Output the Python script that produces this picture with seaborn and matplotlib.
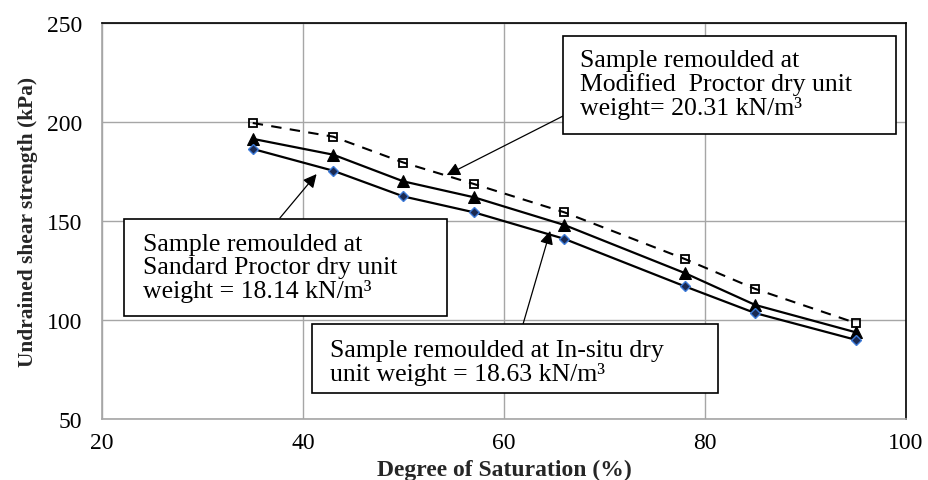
import matplotlib
matplotlib.use("Agg")
import matplotlib.pyplot as plt
from matplotlib.patches import Rectangle
import pandas as pd
import seaborn as sns

# Degree of saturation (%) at which each sample was tested
saturation = [35, 43, 50, 57, 66, 78, 85, 95]

# Undrained shear strength (kPa) for each remoulding condition
modified_proctor = [199.5, 192.6, 179.5, 168.7, 154.4, 130.8, 115.7, 98.5]
in_situ = [191.5, 183.5, 170.0, 162.0, 148.0, 123.7, 107.6, 93.8]
standard_proctor = [186.4, 175.4, 162.4, 154.4, 141.0, 117.0, 103.5, 90.0]

x_ticks = [20, 40, 60, 80, 100]
y_ticks = [50, 100, 150, 200, 250]

df = pd.DataFrame({
    "S": saturation * 3,
    "cu": modified_proctor + in_situ + standard_proctor,
    "sample": (["Modified"] * len(saturation) + ["In-situ"] * len(saturation)
               + ["Standard"] * len(saturation)),
})

sns.set_theme(style="whitegrid")
plt.rcParams["font.family"] = ["Liberation Serif", "DejaVu Serif"]

fig = plt.figure(figsize=(9.29, 4.81), dpi=100)
ax = fig.add_axes([0.1098, 0.1268, 0.8654, 0.8233])
ax.set_facecolor("white")

styles = {
    "Modified": dict(marker="s", markersize=6.2, markerfacecolor="none",
                     markeredgecolor="black", markeredgewidth=1.3,
                     linestyle=(0, (5, 4)), color="black", linewidth=1.5),
    "In-situ": dict(marker="^", markersize=8, markerfacecolor="black",
                    markeredgecolor="black", linestyle="-", color="black",
                    linewidth=1.6),
    "Standard": dict(marker="D", markersize=4.6, markerfacecolor="#1b2a52",
                     markeredgecolor="#3d7bd9", markeredgewidth=1.0,
                     linestyle="-", color="black", linewidth=1.6),
}

for name, kw in styles.items():
    sub = df[df["sample"] == name]
    sns.lineplot(data=sub, x="S", y="cu", ax=ax, sort=False, estimator=None,
                 legend=False, zorder=3, **kw)

ax.set_xlim(20, 100)
ax.set_ylim(50, 250)
ax.set_xticks(x_ticks)
ax.set_yticks(y_ticks)
ax.grid(True, color="#a6a6a6", linewidth=1.0)
ax.tick_params(axis="both", length=0, labelsize=17, colors="black")
ax.tick_params(axis="y", pad=14)
ax.tick_params(axis="x", pad=9)

for side in ("left", "bottom"):
    ax.spines[side].set_color("#a6a6a6")
    ax.spines[side].set_linewidth(1.2)
for side in ("top", "right"):
    ax.spines[side].set_color("black")
    ax.spines[side].set_linewidth(1.2)
    ax.spines[side].set_visible(True)

ax.set_xlabel("Degree of Saturation (%)", fontsize=17, fontweight="bold")
ax.set_ylabel("Undrained shear strength (kPa)", fontsize=15.4, fontweight="bold")
ax.xaxis.set_label_coords(0.5, -0.1)
ax.yaxis.set_label_coords(-0.08, 0.5)

# Callout boxes: (x0, y0, x1, y1) of the frame, text anchor, arrow tail and tip
callouts = [
    dict(box=(65.87, 193.9, 99.0, 243.4), text_xy=(67.6, 219.0),
         text="Sample remoulded at\nModified  Proctor dry unit\nweight= 20.31 kN/m³",
         tail=(65.87, 203.0), tip=(54.3, 173.2)),
    dict(box=(22.19, 102.0, 54.33, 151.0), text_xy=(24.08, 126.6),
         text="Sample remoulded at\nSandard Proctor dry unit\nweight = 18.14 kN/m³",
         tail=(37.7, 151.5), tip=(41.35, 173.7)),
    dict(box=(40.9, 63.1, 81.3, 98.0), text_xy=(42.7, 79.0),
         text="Sample remoulded at In-situ dry\nunit weight = 18.63 kN/m³",
         tail=(61.9, 98.0), tip=(64.6, 145.0)),
]

for c in callouts:
    x0, y0, x1, y1 = c["box"]
    ax.add_patch(Rectangle((x0, y0), x1 - x0, y1 - y0, facecolor="white",
                           edgecolor="black", linewidth=1.2, zorder=5))
    ax.text(c["text_xy"][0], c["text_xy"][1], c["text"], fontsize=18.5,
            ha="left", va="center", linespacing=1.05, color="black", zorder=6)
    ax.annotate("", xy=c["tip"], xytext=c["tail"],
                arrowprops=dict(arrowstyle="-|>", color="black", lw=0.9,
                                mutation_scale=20, shrinkA=0, shrinkB=0),
                zorder=4)

fig.savefig("out.png", dpi=100)
